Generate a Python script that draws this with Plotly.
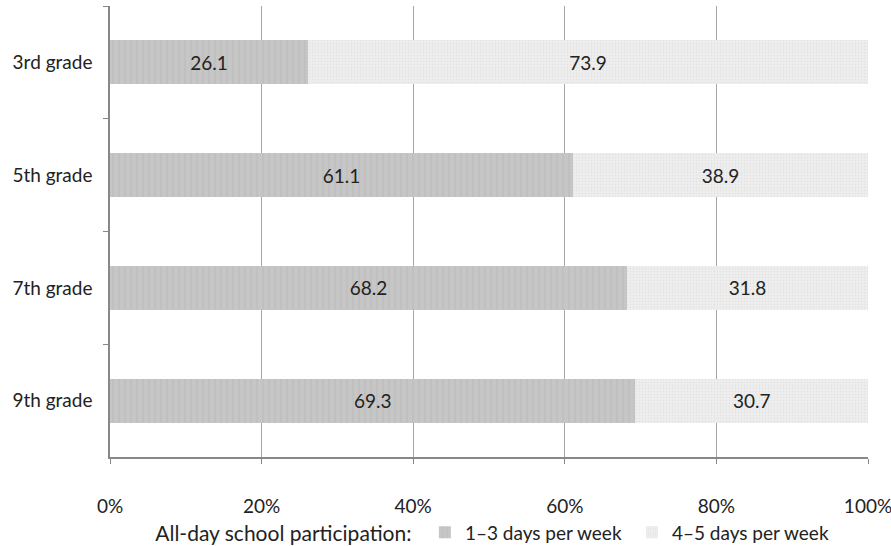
import plotly.graph_objects as go

grades = ["3rd grade", "5th grade", "7th grade", "9th grade"]
days_1_3 = [26.1, 61.1, 68.2, 69.3]
days_4_5 = [73.9, 38.9, 31.8, 30.7]
x_ticks = [0, 20, 40, 60, 80, 100]
x_tick_labels = ["0%", "20%", "40%", "60%", "80%", "100%"]

FONT = "Lato, 'Open Sans', sans-serif"
TXT = "#222222"

fig = go.Figure()
fig.add_trace(go.Bar(
    y=grades, x=days_1_3, orientation="h", name="1\u20133 days per week",
    marker=dict(color="#c6c6c6", line=dict(width=0),
                pattern=dict(shape="|", fgcolor="#b8b8b8", size=6, solidity=0.25)),
    text=[f"{v:.1f}" for v in days_1_3], textposition="inside",
    insidetextanchor="middle", textfont=dict(color=TXT, size=19, family=FONT),
    width=0.39,
))
fig.add_trace(go.Bar(
    y=grades, x=days_4_5, orientation="h", name="4\u20135 days per week",
    marker=dict(color="#eeeeee", line=dict(width=0),
                pattern=dict(shape=".", fgcolor="#d8d8d8", size=3, solidity=0.3)),
    text=[f"{v:.1f}" for v in days_4_5], textposition="inside",
    insidetextanchor="middle", textfont=dict(color=TXT, size=19, family=FONT),
    width=0.39,
))

fig.update_layout(
    barmode="stack",
    width=891, height=546,
    margin=dict(l=110, r=23, t=6, b=89, autoexpand=False),
    paper_bgcolor="white", plot_bgcolor="white",
    font=dict(family=FONT, size=19, color=TXT),
    uniformtext=dict(mode="show", minsize=10),
    legend=dict(
        orientation="h", xref="container", x=0.172, xanchor="left",
        yref="container", y=0.025, yanchor="middle",
        title=dict(text="All-day school participation: ", font=dict(size=21, family=FONT, color=TXT)),
        font=dict(size=19, family=FONT, color=TXT), itemwidth=30,
        entrywidth=162, traceorder="normal",
    ),
    xaxis=dict(
        range=[0, 100], tickvals=x_ticks, ticktext=x_tick_labels,
        showgrid=True, gridcolor="#a6a6a6", gridwidth=1,
        showline=True, linecolor="#888888", linewidth=1.5,
        ticks="outside", ticklen=5, tickcolor="#888888",
        tickfont=dict(size=19), zeroline=False, ticklabelstandoff=26,
        ticklabeloverflow="allow",
    ),
    yaxis=dict(
        autorange="reversed", showline=True, linecolor="#888888", linewidth=1.5,
        ticks="outside", ticklen=5, tickcolor="#888888", tickson="boundaries",
        tickfont=dict(size=19), showgrid=False, ticklabelstandoff=12,
    ),
)

fig.write_html("out.html")
